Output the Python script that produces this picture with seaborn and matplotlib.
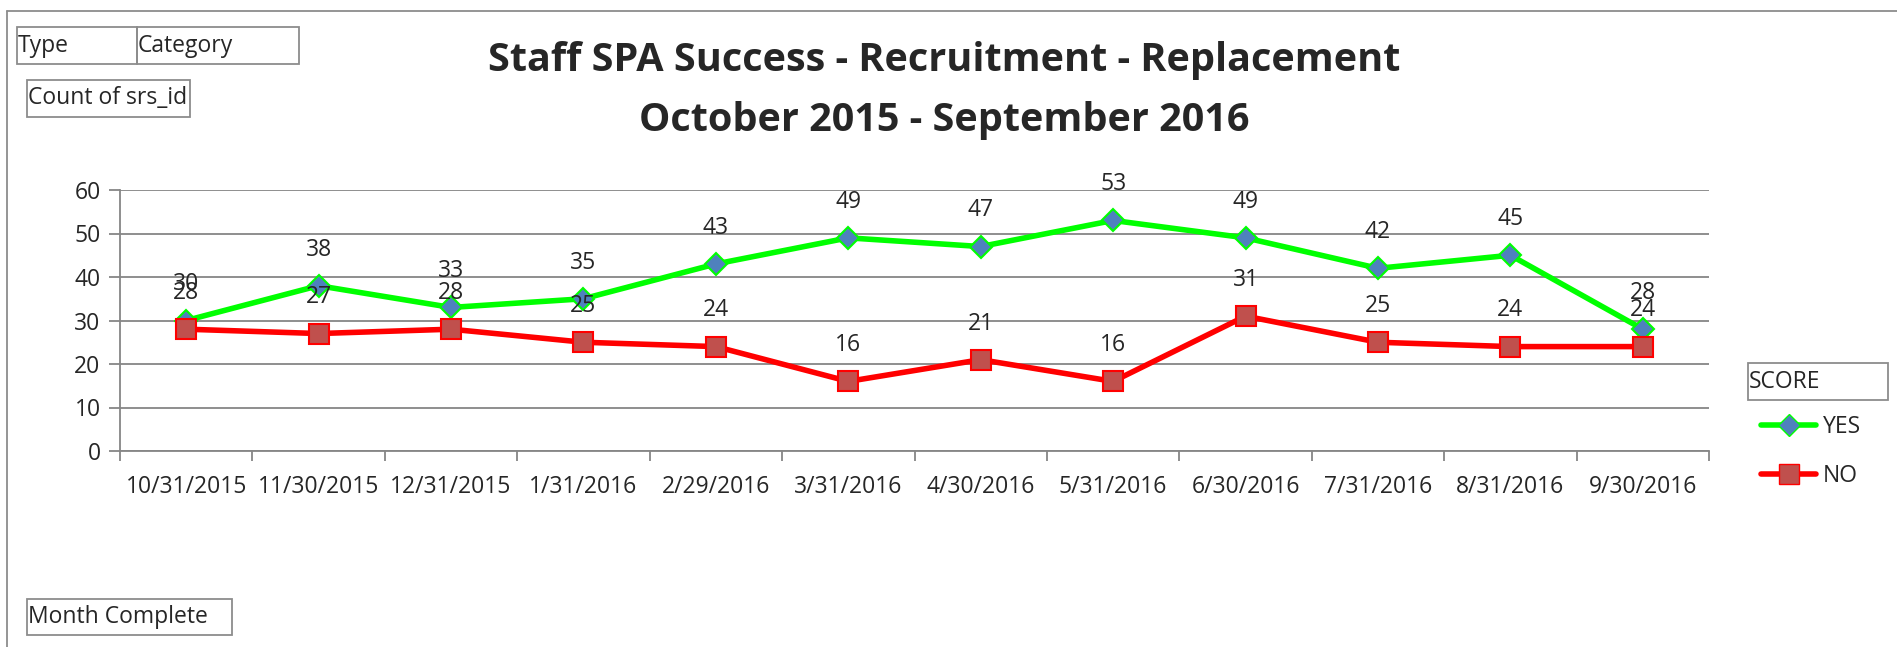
import matplotlib
matplotlib.use("Agg")
import matplotlib.pyplot as plt
import matplotlib.patches as mpatches
import matplotlib.lines as mlines
import seaborn as sns
import pandas as pd
import numpy as np

# data
months = ["10/31/2015", "11/30/2015", "12/31/2015", "1/31/2016", "2/29/2016", "3/31/2016",
          "4/30/2016", "5/31/2016", "6/30/2016", "7/31/2016", "8/31/2016", "9/30/2016"]
yes_counts = [30, 38, 33, 35, 43, 49, 47, 53, 49, 42, 45, 28]
no_counts = [28, 27, 28, 25, 24, 16, 21, 16, 31, 25, 24, 24]

sns.set_theme(style="white")
plt.rcParams['font.family'] = ['Open Sans', 'DejaVu Sans']

W, H = 1897, 647
FS = 16.5
fig = plt.figure(figsize=(W / 100, H / 100), dpi=100)
ax = fig.add_axes([120 / W, 1 - 451 / H, (1709 - 120) / W, (451 - 190) / H])

df = pd.DataFrame({"x": np.arange(len(months)), "YES": yes_counts, "NO": no_counts})

sns.lineplot(data=df, x="x", y="YES", ax=ax, color="#00FF00", linewidth=4,
             marker="D", markersize=11, markerfacecolor="#4F81BD",
             markeredgecolor="#00FF00", markeredgewidth=1.5, zorder=3)
sns.lineplot(data=df, x="x", y="NO", ax=ax, color="#FF0000", linewidth=4,
             marker="s", markersize=14, markerfacecolor="#C0504D",
             markeredgecolor="#FF0000", markeredgewidth=1.5, zorder=3)

# data labels above points
for i in range(len(months)):
    ax.annotate(str(yes_counts[i]), (i, yes_counts[i]), xytext=(0, 26),
                textcoords="offset points", ha="center", va="center", fontsize=FS)
    ax.annotate(str(no_counts[i]), (i, no_counts[i]), xytext=(0, 26),
                textcoords="offset points", ha="center", va="center", fontsize=FS)

grid_c = "#868686"
ax.set_xlim(-0.5, len(months) - 0.5)
ax.set_ylim(0, 60)
ax.set_yticks(range(0, 61, 10))
ax.yaxis.grid(True, color=grid_c, linewidth=1.3)
ax.set_xticks(range(len(months)))
ax.set_xticklabels(months, fontsize=FS)
ax.set_xticks(np.arange(-0.5, len(months), 1), minor=True)
ax.tick_params(axis="x", which="major", length=0, pad=17)
ax.tick_params(axis="x", which="minor", length=7, color=grid_c, width=1.3, direction="out", bottom=True)
ax.tick_params(axis="y", length=8, color=grid_c, width=1.3, direction="out", left=True, labelsize=FS, pad=6)
ax.set_xlabel("")
ax.set_ylabel("")
for s in ["top", "right"]:
    ax.spines[s].set_visible(False)
for s in ["left", "bottom"]:
    ax.spines[s].set_color(grid_c)
    ax.spines[s].set_linewidth(1.3)

# title
fig.text(944 / W, 1 - 60 / H, "Staff SPA Success - Recruitment - Replacement",
         ha="center", va="center", fontsize=28.5, fontweight="bold")
fig.text(944 / W, 1 - 120 / H, "October 2015 - September 2016",
         ha="center", va="center", fontsize=28.5, fontweight="bold")

# outer frame (cut at right and bottom)
box_c = "#8C8C8C"
fig.add_artist(mlines.Line2D([7 / W, 1], [1 - 11 / H, 1 - 11 / H], color=box_c, lw=1.3))
fig.add_artist(mlines.Line2D([7 / W, 7 / W], [1 - 11 / H, 0], color=box_c, lw=1.3))


def field_box(x0, y0, x1, y1, label):
    fig.add_artist(mpatches.Rectangle((x0 / W, 1 - y1 / H), (x1 - x0) / W, (y1 - y0) / H,
                                      fill=False, edgecolor=box_c, lw=1.3))
    fig.text((x0 + 1) / W, 1 - (y0 + y1) / 2 / H, label, ha="left", va="center", fontsize=FS)


field_box(17, 27, 137, 64, "Type")
field_box(137, 27, 299, 64, "Category")
field_box(27, 80, 190, 117, "Count of srs_id")
field_box(27, 599, 232, 635, "Month Complete")
field_box(1748, 363, 1888, 400, "SCORE")

# legend
h_yes = mlines.Line2D([], [], color="#00FF00", lw=4, marker="D", markersize=11,
                      markerfacecolor="#4F81BD", markeredgecolor="#00FF00")
h_no = mlines.Line2D([], [], color="#FF0000", lw=4, marker="s", markersize=14,
                     markerfacecolor="#C0504D", markeredgecolor="#FF0000")
fig.legend([h_yes, h_no], ["YES", "NO"], loc="upper left",
           bbox_to_anchor=(1752 / W, 1 - 406 / H), frameon=False, fontsize=FS,
           handlelength=2.4, handletextpad=0.3, labelspacing=1.1, borderaxespad=0)

fig.savefig("out.png", dpi=100)
